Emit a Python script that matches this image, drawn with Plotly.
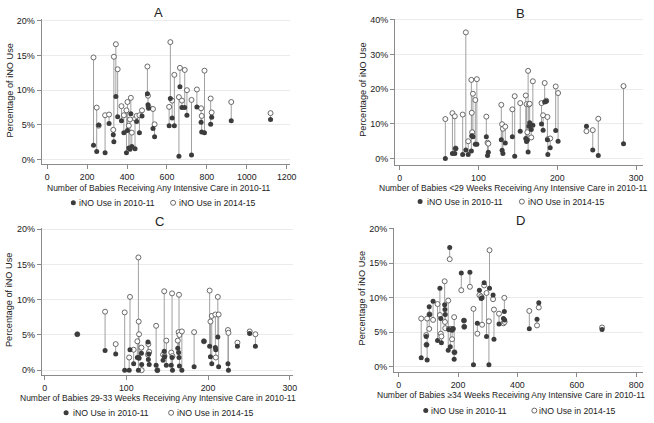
import plotly.graph_objects as go

# ---------------- data ----------------
# Panel A: all babies
a_x = [232, 248, 258, 290, 310, 331, 334, 344, 353, 372, 384, 397, 402, 409, 415, 419, 424, 440, 448, 462,
       475, 502, 505, 508, 530, 538, 611, 617, 626, 637, 660, 665, 675, 689, 700, 723, 750, 771, 774, 788,
       819, 824, 922, 1119]
a_2010 = [2.1, 1.2, 5.0, 1.0, 5.2, 3.6, 2.6, 9.1, 6.2, 5.6, 3.9, 1.0, 4.2, 1.7, 1.5, 6.6, 1.9, 1.6, 5.5, 3.9,
          6.3, 9.5, 7.9, 7.4, 4.5, 3.3, 4.9, 8.8, 6.0, 4.9, 0.5, 10.5, 7.5, 7.5, 6.4, 0.7, 7.6, 5.4, 4.0, 3.9,
          5.1, 6.1, 5.6, 5.8]
a_2015 = [14.7, 7.5, 4.9, 6.4, 6.5, 4.3, 14.8, 16.6, 13.0, 7.7, 6.4, 7.1, 8.3, 4.9, 5.8, 8.9, 3.9, 5.9, 6.3, 6.4,
          7.1, 13.4, 9.2, 7.6, 7.3, 5.1, 7.6, 16.9, 8.5, 12.2, 9.0, 13.2, 8.5, 12.9, 10.0, 8.6, 10.1, 7.4, 6.3, 12.8,
          8.8, 6.8, 8.3, 6.7]

# Panel B: <29 weeks
b_x = [58, 67, 70, 71, 80, 84, 87, 91, 91.5, 92, 93, 96, 98, 110, 111.5, 112.5, 129, 130, 131, 134,
       143, 146, 153, 160, 161, 162, 163, 164, 165, 167, 169, 180, 182, 184, 186, 187.5, 188, 191, 198, 201,
       237, 245, 252, 284]
b_2010 = [0.0, 1.5, 1.5, 2.9, 1.2, 2.5, 1.2, 2.2, 6.5, 6.6, 6.3, 4.1, 4.1, 6.3, 0.9, 1.8, 5.4, 2.4, 1.5, 4.5,
          6.3, 0.7, 7.9, 5.8, 4.9, 5.3, 1.9, 9.3, 10.3, 8.4, 9.6, 10.0, 8.2, 16.3, 16.5, 5.4, 1.2, 3.1, 8.1, 5.0,
          9.3, 2.5, 0.9, 4.3]
b_2015 = [11.4, 13.1, 12.2, 2.9, 12.7, 36.4, 5.0, 22.7, 13.2, 7.6, 18.7, 16.9, 22.9, 12.1, 4.6, 4.3, 15.5, 9.9, 8.6, 9.2,
          14.2, 18.0, 16.0, 18.2, 15.7, 7.6, 25.3, 15.6, 15.8, 6.1, 22.3, 16.0, 12.5, 21.8, 16.7, 12.0, 5.6, 5.8, 20.8, 18.9,
          7.9, 8.2, 11.5, 20.9]

# Panel C: 29-33 weeks
c_x = [40, 74, 87, 98, 103.5, 104.5, 109, 113.5, 114.8, 115.2, 115.6, 118.5, 118.8, 126.5, 127, 127.5, 128, 136.5,
       138, 145, 146.4, 146.8, 149, 155, 156, 156.5, 163, 164, 164.5, 165, 168, 183, 195, 202, 203, 204.6,
       209, 209.5, 212, 213, 224.4, 225, 236, 251, 258]
c_2010 = [5.1, 2.8, 2.3, 0.0, 0.0, 2.9, 0.9, 1.8, 0.0, 1.8, 1.7, 2.4, 0.8, 4.0, 1.5, 2.3, 0.8, 0.7,
          0.0, 1.4, 2.7, 1.9, 0.7, 0.7, 1.8, 0.0, 3.1, 2.5, 1.8, 0.6, 0.0, 0.5, 4.1, 3.4, 1.9, 0.9,
          3.2, 2.9, 4.7, 0.5, 0.9, 0.0, 3.4, 5.2, 3.4]
c_2015 = [5.1, 8.3, 3.7, 8.2, 1.8, 10.4, 2.9, 4.1, 16.0, 6.9, 5.1, 3.2, 0.0, 2.2, 3.7, 2.5, 2.6, 6.3,
          0.0, 2.2, 11.2, 2.0, 4.2, 2.5, 10.9, 2.0, 4.2, 5.4, 10.7, 5.0, 5.5, 5.4, 4.1, 11.3, 6.9, 7.7,
          7.9, 1.8, 10.4, 7.9, 5.7, 5.3, 3.9, 5.5, 5.1]

# Panel D: >=34 weeks
d_x = [76, 93, 94, 96, 103, 104, 116, 131, 139, 142, 144, 155, 156, 157, 167, 169, 172, 174, 180, 183,
       187, 188, 211, 220, 221, 240, 252, 265, 272, 278, 281, 288, 296, 304, 306, 318, 321, 338, 353, 356,
       357, 440, 466, 472, 685]
d_2010 = [1.3, 4.4, 3.2, 1.0, 8.7, 7.6, 9.5, 3.8, 11.4, 7.0, 3.5, 9.0, 8.3, 7.6, 2.4, 5.4, 17.3, 2.9, 5.3, 5.5,
          1.1, 2.1, 13.6, 6.7, 5.8, 13.7, 0.3, 6.3, 11.1, 9.9, 10.0, 12.2, 4.4, 0.3, 11.4, 10.4, 4.0, 6.2, 7.0, 8.0,
          6.8, 5.5, 6.9, 9.3, 5.4]
d_2015 = [7.0, 4.6, 3.2, 7.0, 5.5, 7.6, 6.8, 9.1, 7.5, 4.8, 4.4, 12.4, 6.5, 5.6, 9.6, 5.5, 15.6, 5.5, 4.0, 5.5,
          7.2, 2.1, 11.1, 6.7, 5.8, 11.6, 8.4, 4.8, 10.4, 10.2, 6.1, 11.8, 10.7, 6.6, 16.9, 9.8, 8.3, 7.7, 6.3, 10.0,
          6.5, 8.1, 6.0, 8.6, 5.7]

panel_titles = ["A", "B", "C", "D"]
x_titles = ["Number of Babies Receiving Any Intensive Care in 2010-11",
            "Number of Babies <29 Weeks Receiving Any Intensive Care in 2010-11",
            "Number of Babies 29-33 Weeks Receiving Any Intensive Care in 2010-11",
            "Number of Babies \u226534 Weeks Receiving Any Intensive Care in 2010-11"]
y_title = "Percentage of iNO Use"
series_names = ["iNO Use in 2010-11", "iNO Use in 2014-15"]

x_ticks = [[0, 200, 400, 600, 800, 1000, 1200], [0, 100, 200, 300], [0, 100, 200, 300], [0, 200, 400, 600, 800]]
y_ticks = [[0, 5, 10, 15, 20], [0, 10, 20, 30, 40], [0, 5, 10, 15, 20], [0, 5, 10, 15, 20]]
y_tick_labels = [[f"{v}%" for v in t] for t in y_ticks]

# ---------------- styling / layout ----------------
W, H = 654, 423
FONT = "Liberation Sans, Arial, sans-serif"
TXT = "#222222"
AXC = "#8a8a8a"
FILL_C = "#3c3c3c"
HOLLOW_C = "#5a5a5a"
SPIKE_C = "#a0a0a0"

# pixel boxes of the plot areas (left, right, top, bottom)
boxes = [(42, 293, 15, 162), (398.7, 648.7, 15, 162.7), (42.3, 295.7, 226, 375), (397.7, 648.7, 226, 372)]
x_ranges = [[-28, 1218], [-5.8, 308.4], [-3.3, 304], [-15.4, 822]]
y_ranges = [[-0.67, 20.24], [-1.9, 40.3], [-0.75, 20.2], [-0.82, 20.14]]

title_pos = [(160, 8.3), (525, 10), (160.7, 219.3), (525, 218.3)]
xtitle_pos = [(160.5, 185.7), (518.3, 185.5), (159, 397.7), (515.7, 395)]
ytitle_pos = [(10, 87.5), (366.3, 86.7), (9.3, 298.7), (366.3, 297.3)]
# legend: (filled marker x, filled text x, hollow marker x, hollow text x, y)
legend_pos = [(74, 77.5, 174.7, 178.3, 200.7), (424, 428.7, 526.7, 531, 199.5),
              (66.7, 71.7, 172.7, 176.7, 412.7), (429.7, 433, 539.3, 542, 410.5)]

data = [(a_x, a_2010, a_2015), (b_x, b_2010, b_2015), (c_x, c_2010, c_2015), (d_x, d_2010, d_2015)]

fig = go.Figure()
layout = dict(width=W, height=H, margin=dict(l=0, r=0, t=0, b=0),
              paper_bgcolor="white", plot_bgcolor="white", showlegend=False,
              font=dict(family=FONT, color=TXT))
annotations = []
shapes = []


def px(x):
    return x / W


def py(y):
    return 1 - y / H


for i, (xs, y1, y2) in enumerate(data):
    sfx = "" if i == 0 else str(i + 1)
    xa, ya = "x" + sfx, "y" + sfx
    lx, ly = [], []
    for x, a, b in zip(xs, y1, y2):
        lx += [x, x, None]
        ly += [a, b, None]
    fig.add_trace(go.Scatter(x=lx, y=ly, mode="lines", line=dict(color=SPIKE_C, width=1),
                             hoverinfo="skip", xaxis=xa, yaxis=ya))
    fig.add_trace(go.Scatter(x=xs, y=y2, mode="markers", name=series_names[1],
                             marker=dict(symbol="circle", size=5, color="white",
                                         line=dict(color=HOLLOW_C, width=0.9)),
                             xaxis=xa, yaxis=ya))
    fig.add_trace(go.Scatter(x=xs, y=y1, mode="markers", name=series_names[0],
                             marker=dict(symbol="circle", size=5, color=FILL_C,
                                         line=dict(color=FILL_C, width=0)),
                             xaxis=xa, yaxis=ya))
    l, r, t, b = boxes[i]
    layout["xaxis" + sfx] = dict(domain=[px(l), px(r)], range=x_ranges[i], anchor=ya,
                                 tickmode="array", tickvals=x_ticks[i],
                                 showline=True, linecolor=AXC, linewidth=1,
                                 ticks="outside", ticklen=4, tickcolor=AXC, showgrid=False,
                                 zeroline=False, tickfont=dict(size=8.8, color=TXT, family=FONT))
    layout["yaxis" + sfx] = dict(domain=[py(b), py(t)], range=y_ranges[i], anchor=xa,
                                 tickmode="array", tickvals=y_ticks[i], ticktext=y_tick_labels[i],
                                 showline=True, linecolor=AXC,
                                 linewidth=1, ticks="outside", ticklen=4, tickcolor=AXC,
                                 showgrid=True, gridcolor="#ebebeb", gridwidth=1, zeroline=False,
                                 tickfont=dict(size=9, color=TXT, family=FONT))
    # titles
    tx, ty = title_pos[i]
    annotations.append(dict(text=panel_titles[i], x=px(tx), y=py(ty), xref="paper", yref="paper",
                            showarrow=False, xanchor="center", yanchor="middle",
                            font=dict(size=13, color=TXT, family=FONT)))
    tx, ty = xtitle_pos[i]
    annotations.append(dict(text=x_titles[i], x=px(tx), y=py(ty), xref="paper", yref="paper",
                            showarrow=False, xanchor="center", yanchor="middle",
                            font=dict(size=8.5, color=TXT, family=FONT)))
    tx, ty = ytitle_pos[i]
    annotations.append(dict(text=y_title, x=px(tx), y=py(ty), xref="paper", yref="paper",
                            showarrow=False, xanchor="center", yanchor="middle", textangle=-90,
                            font=dict(size=9.2, color=TXT, family=FONT)))
    # legend
    fmx, ftx, hmx, htx, ly_ = legend_pos[i]
    for mx, txx, name, filled in [(fmx, ftx, series_names[0], True), (hmx, htx, series_names[1], False)]:
        shapes.append(dict(type="circle", xref="paper", yref="paper", xsizemode="pixel", ysizemode="pixel",
                           xanchor=px(mx), yanchor=py(ly_), x0=-2.5, x1=2.5, y0=-2.5, y1=2.5,
                           fillcolor=FILL_C if filled else "white",
                           line=dict(color=FILL_C if filled else HOLLOW_C, width=0 if filled else 0.9)))
        annotations.append(dict(text=name, x=px(txx), y=py(ly_), xref="paper", yref="paper",
                                showarrow=False, xanchor="left", yanchor="middle",
                                font=dict(size=8.7, color=TXT, family=FONT)))

layout["annotations"] = annotations
layout["shapes"] = shapes
fig.update_layout(**layout)
fig.write_html("out.html", config={"displayModeBar": False},
               post_script="document.body.style.margin='0';document.body.style.padding='0';"
                           "document.documentElement.style.overflow='hidden';")
